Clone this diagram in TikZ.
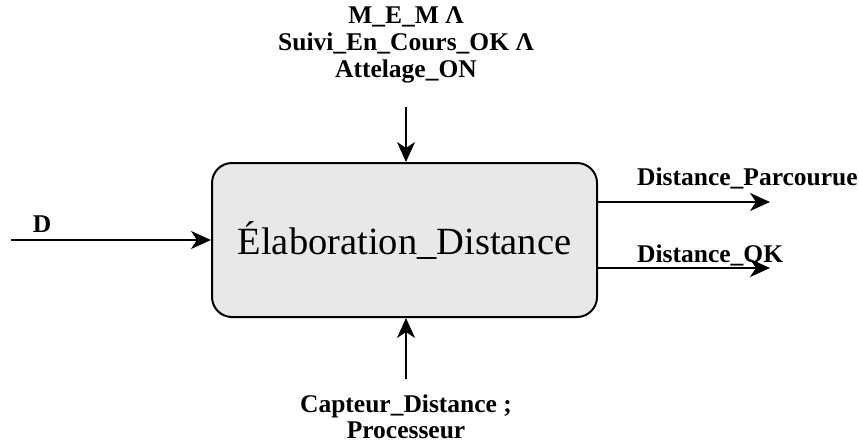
\documentclass[tikz,border=0pt]{standalone}
\usepackage{fontspec}
\setmainfont{Liberation Serif}
\usetikzlibrary{arrows.meta}
\definecolor{boxfill}{HTML}{E8E8E8}
\tikzset{
  flow/.style={line width=2pt, -{Stealth[length=20pt,width=18pt,inset=6pt]}},
  lbl/.style={font=\bfseries\fontsize{25.5}{27}\selectfont, inner sep=0pt, align=center},
  procbox/.style={draw, line width=2pt, fill=boxfill, rounded corners=20pt, minimum width=385pt, minimum height=154pt, font=\fontsize{38.5}{42}\selectfont},
}
\begin{document}
\begin{tikzpicture}[x=1pt,y=-1pt]
\useasboundingbox (0,0) rectangle (859,445);
\node[procbox] (P) at (404.5,240) {Élaboration\_Distance};
\node[lbl, anchor=center] (top) at (406,45) {M\_E\_M Λ\\Suivi\_En\_Cours\_OK Λ\\Attelage\_ON};
\coordinate (topend) at (406,107);
\draw[flow] (topend) -- (P.north -| topend);
\node[lbl, font=\bfseries\fontsize{25.5}{26}\selectfont] (bot) at (406,417) {Capteur\_Distance ;\\Processeur};
\coordinate (botend) at (406,379);
\draw[flow] (botend) -- (P.south -| botend);
\coordinate (lin) at (11,240);
\draw[flow] (lin) -- (P.west |- lin);
\node[lbl] (D) at (42,224) {D};
\coordinate (o1) at (770,202);
\coordinate (o2) at (770,268);
\draw[flow] (P.east |- o1) -- (o1);
\draw[flow] (P.east |- o2) -- (o2);
\node[lbl, anchor=west] (l1) at (637,178) {Distance\_Parcourue};
\node[lbl, anchor=west] (l2) at (637,256) {Distance\_QK};
\end{tikzpicture}
\end{document}
